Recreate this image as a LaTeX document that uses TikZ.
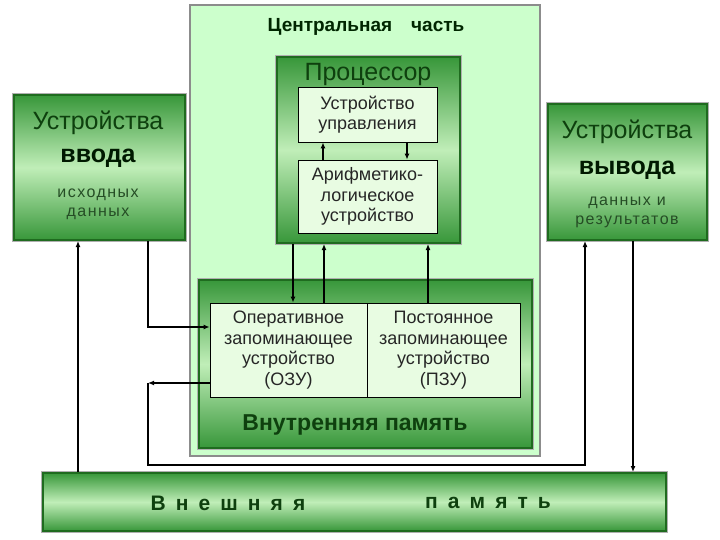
\documentclass[tikz,border=0pt]{standalone}
\usepackage{fontspec}
\setmainfont{Liberation Sans}
\newfontfamily\widefont[LetterSpace=9]{Liberation Sans}
\newfontfamily\barfont[LetterSpace=48]{Liberation Sans}
\usetikzlibrary{arrows.meta}
\definecolor{PaleGreen}{HTML}{CCFFCC}
\definecolor{BoxDark}{HTML}{1F6B1F}
\definecolor{BoxMid}{HTML}{38973A}
\definecolor{BoxLight}{HTML}{C0EEB8}
\definecolor{InnerFill}{HTML}{E8FCE2}
\definecolor{TextGreen}{HTML}{0E400E}
\definecolor{FrameGray}{HTML}{8C8C8C}

\tikzset{
  greenbox/.style={draw=BoxDark, line width=2pt, top color=BoxMid, bottom color=BoxMid,
    middle color=BoxLight, preaction={draw=FrameGray!70, line width=4pt}, inner sep=0pt},
  innerbox/.style={draw=black, line width=0.8pt, fill=InnerFill, align=center,
    font=\fontsize{18}{20.5}\selectfont, text=black!85, inner sep=0pt},
  bigtext/.style={font=\fontsize{25}{28}\selectfont, text=TextGreen},
  boldtext/.style={font=\fontsize{25}{28}\selectfont\bfseries, text=black!90!green},
  smalltext/.style={font=\fontsize{16}{19}\selectfont\widefont, text=TextGreen!80!gray, align=center},
  link/.style={-{Latex[length=6pt,width=5pt]}, line width=1.2pt, black},
}

\begin{document}
\begin{tikzpicture}[x=1pt, y=-1pt]
  \path[use as bounding box, fill=white] (0,0) rectangle (720,540);

  % Blocks
  \node[draw=FrameGray, line width=1.5pt, fill=PaleGreen, minimum width=350pt, minimum height=451pt] (central) at (365,230.5) {};
  \node[greenbox, minimum width=183pt, minimum height=186pt] (proc) at (368.5,150) {};
  \node[innerbox, minimum width=139pt, minimum height=55pt] (uu) at (367.5,114.5) {Устройство\\управления};
  \node[innerbox, minimum width=139pt, minimum height=73pt] (alu) at (367.5,196.5) {Арифметико-\\логическое\\устройство};

  \node[greenbox, minimum width=333pt, minimum height=168pt] (mem) at (365.5,364) {};
  \node[innerbox, minimum width=157pt, minimum height=94pt] (ozu) at (288.5,350) {Оперативное\\запоминающее\\устройство\\(ОЗУ)};
  \node[innerbox, minimum width=153pt, minimum height=94pt] (pzu) at (443.5,350) {Постоянное\\запоминающее\\устройство\\(ПЗУ)};

  \node[greenbox, minimum width=171pt, minimum height=145pt] (inp) at (99,167.5) {};
  \node[greenbox, minimum width=159pt, minimum height=136pt] (outp) at (627.5,172) {};
  \node[greenbox, minimum width=623pt, minimum height=58pt] (ext) at (354.5,502) {};

  % Arrows
  \draw[link] (323,0 |- alu.north) -- (323,0 |- uu.south);
  \draw[link] (407,0 |- uu.south) -- (407,0 |- alu.north);
  \draw[link] (293,0 |- proc.south) -- (293,0 |- ozu.north);
  \draw[link] (324,0 |- ozu.north) -- (324,0 |- proc.south);
  \draw[link] (428,0 |- pzu.north) -- (428,0 |- proc.south);

  \coordinate (bend) at (148,383);
  \coordinate (low) at (148,465);
  \draw[link] (ext.north -| 78,0) -- (inp.south -| 78,0);
  \draw[link] (inp.south -| 148,0) |- (ozu.west |- 0,327);
  \draw[link] (ozu.west |- bend) -- (bend);
  \draw[link] (bend) -- (low) -| (outp.south -| 585,0);
  \draw[link] (outp.south -| 633,0) -- (ext.north -| 633,0);

  % Labels
  \node[font=\fontsize{19}{22}\selectfont\bfseries, text=black!85!green] (tcentral) at (366,27) {Центральная\quad часть};
  \node[font=\fontsize{25}{28}\selectfont, text=TextGreen] (tproc) at (368,74) {Процессор};
  \node[font=\fontsize{23}{26}\selectfont\bfseries, text=TextGreen] (tmem) at (355,425) {Внутренняя память};

  \node[bigtext] (tinp1) at (98,123) {Устройства};
  \node[boldtext] (tinp2) at (98,158) {ввода};
  \node[smalltext] (tinp3) at (98,204) {исходных\\данных};

  \node[bigtext] (tout1) at (627,132) {Устройства};
  \node[boldtext] (tout2) at (627,170) {вывода};
  \node[smalltext] (tout3) at (627,212) {данных и\\результатов};

  \node[font=\fontsize{21}{24}\selectfont\bfseries\barfont, text=TextGreen] (text1) at (228,503) {Внешняя};
  \node[font=\fontsize{21}{24}\selectfont\bfseries\barfont, text=TextGreen] (text2) at (488,503) {память};
\end{tikzpicture}
\end{document}
